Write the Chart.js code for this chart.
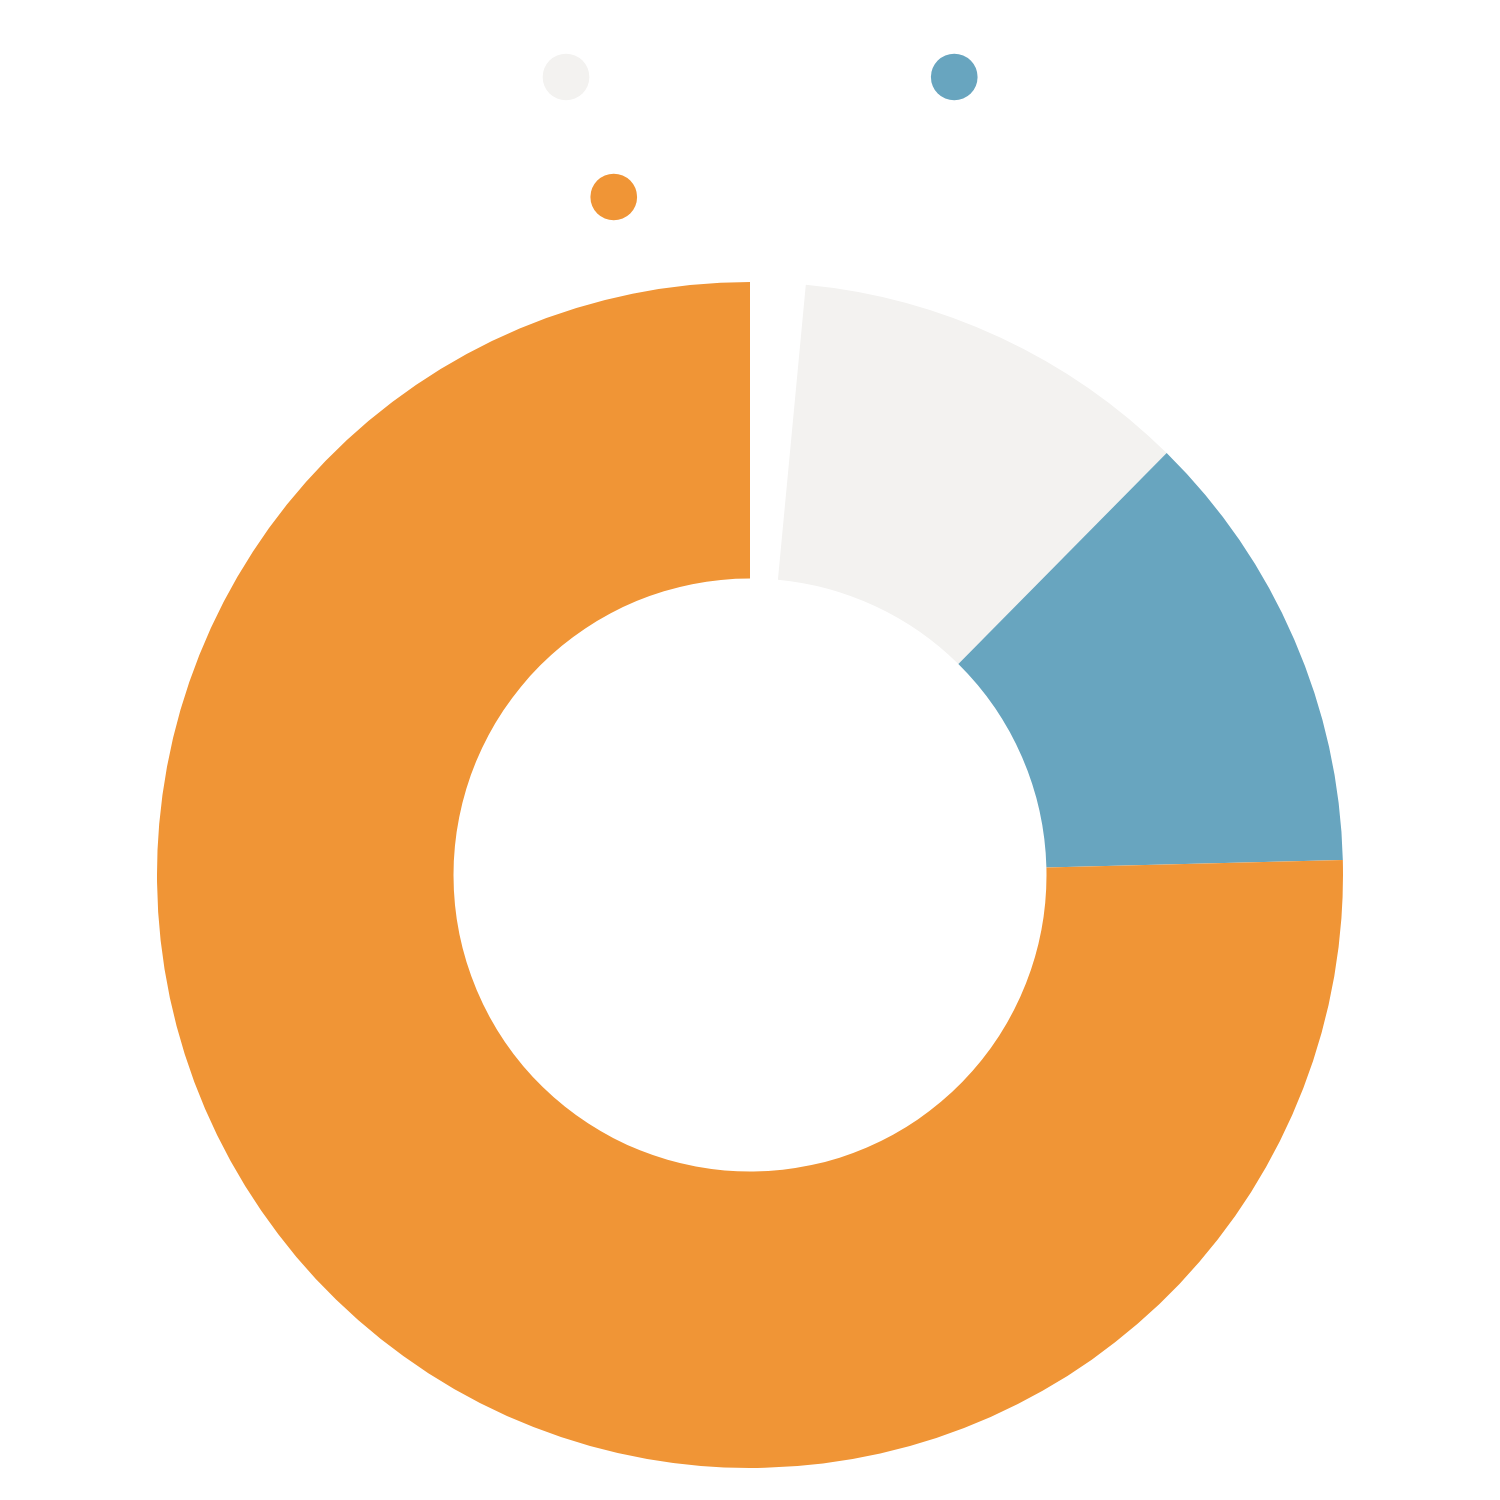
<!DOCTYPE html>
<html lang="en">

<head>
    <meta charset="UTF-8" />
    <meta name="viewport" content="width=device-width, initial-scale=1.0" />
    <title>Survey Answers</title>
    <script src="https://cdn.jsdelivr.net/npm/chart.js"></script>
    <style>
        body {
            margin: 0;
            background: #fff;
        }

        .chart-box {
            width: 1500px;
            height: 1500px;
        }
    </style>
</head>

<body>
    <div class="chart-box">
        <canvas id="answersChart"></canvas>
    </div>

    <script>
        // data
        const answerLabels = ['No idea', 'Neutral', 'Disagree', 'Agree'];
        const answerShares = [1.5, 10.9, 12.2, 75.4];
        const answerColors = ['#ffffff', '#f3f2f0', '#68a5bf', '#f09536'];

        const ctx = document.getElementById('answersChart').getContext('2d');

        new Chart(ctx, {
            type: 'doughnut',
            data: {
                labels: answerLabels,
                datasets: [{
                    data: answerShares,
                    backgroundColor: answerColors,
                    borderWidth: 0,
                    hoverOffset: 0
                }]
            },
            options: {
                responsive: true,
                maintainAspectRatio: false,
                animation: false,
                radius: 593,
                cutout: '50%',
                plugins: {
                    legend: {
                        position: 'top',
                        labels: {
                            color: '#ffffff',
                            usePointStyle: true,
                            pointStyle: 'circle',
                            boxWidth: 34,
                            boxHeight: 33,
                            padding: 34,
                            font: {
                                family: 'Liberation Sans',
                                size: 86
                            }
                        }
                    },
                    tooltip: {
                        enabled: false
                    }
                }
            }
        });
    </script>
</body>

</html>
